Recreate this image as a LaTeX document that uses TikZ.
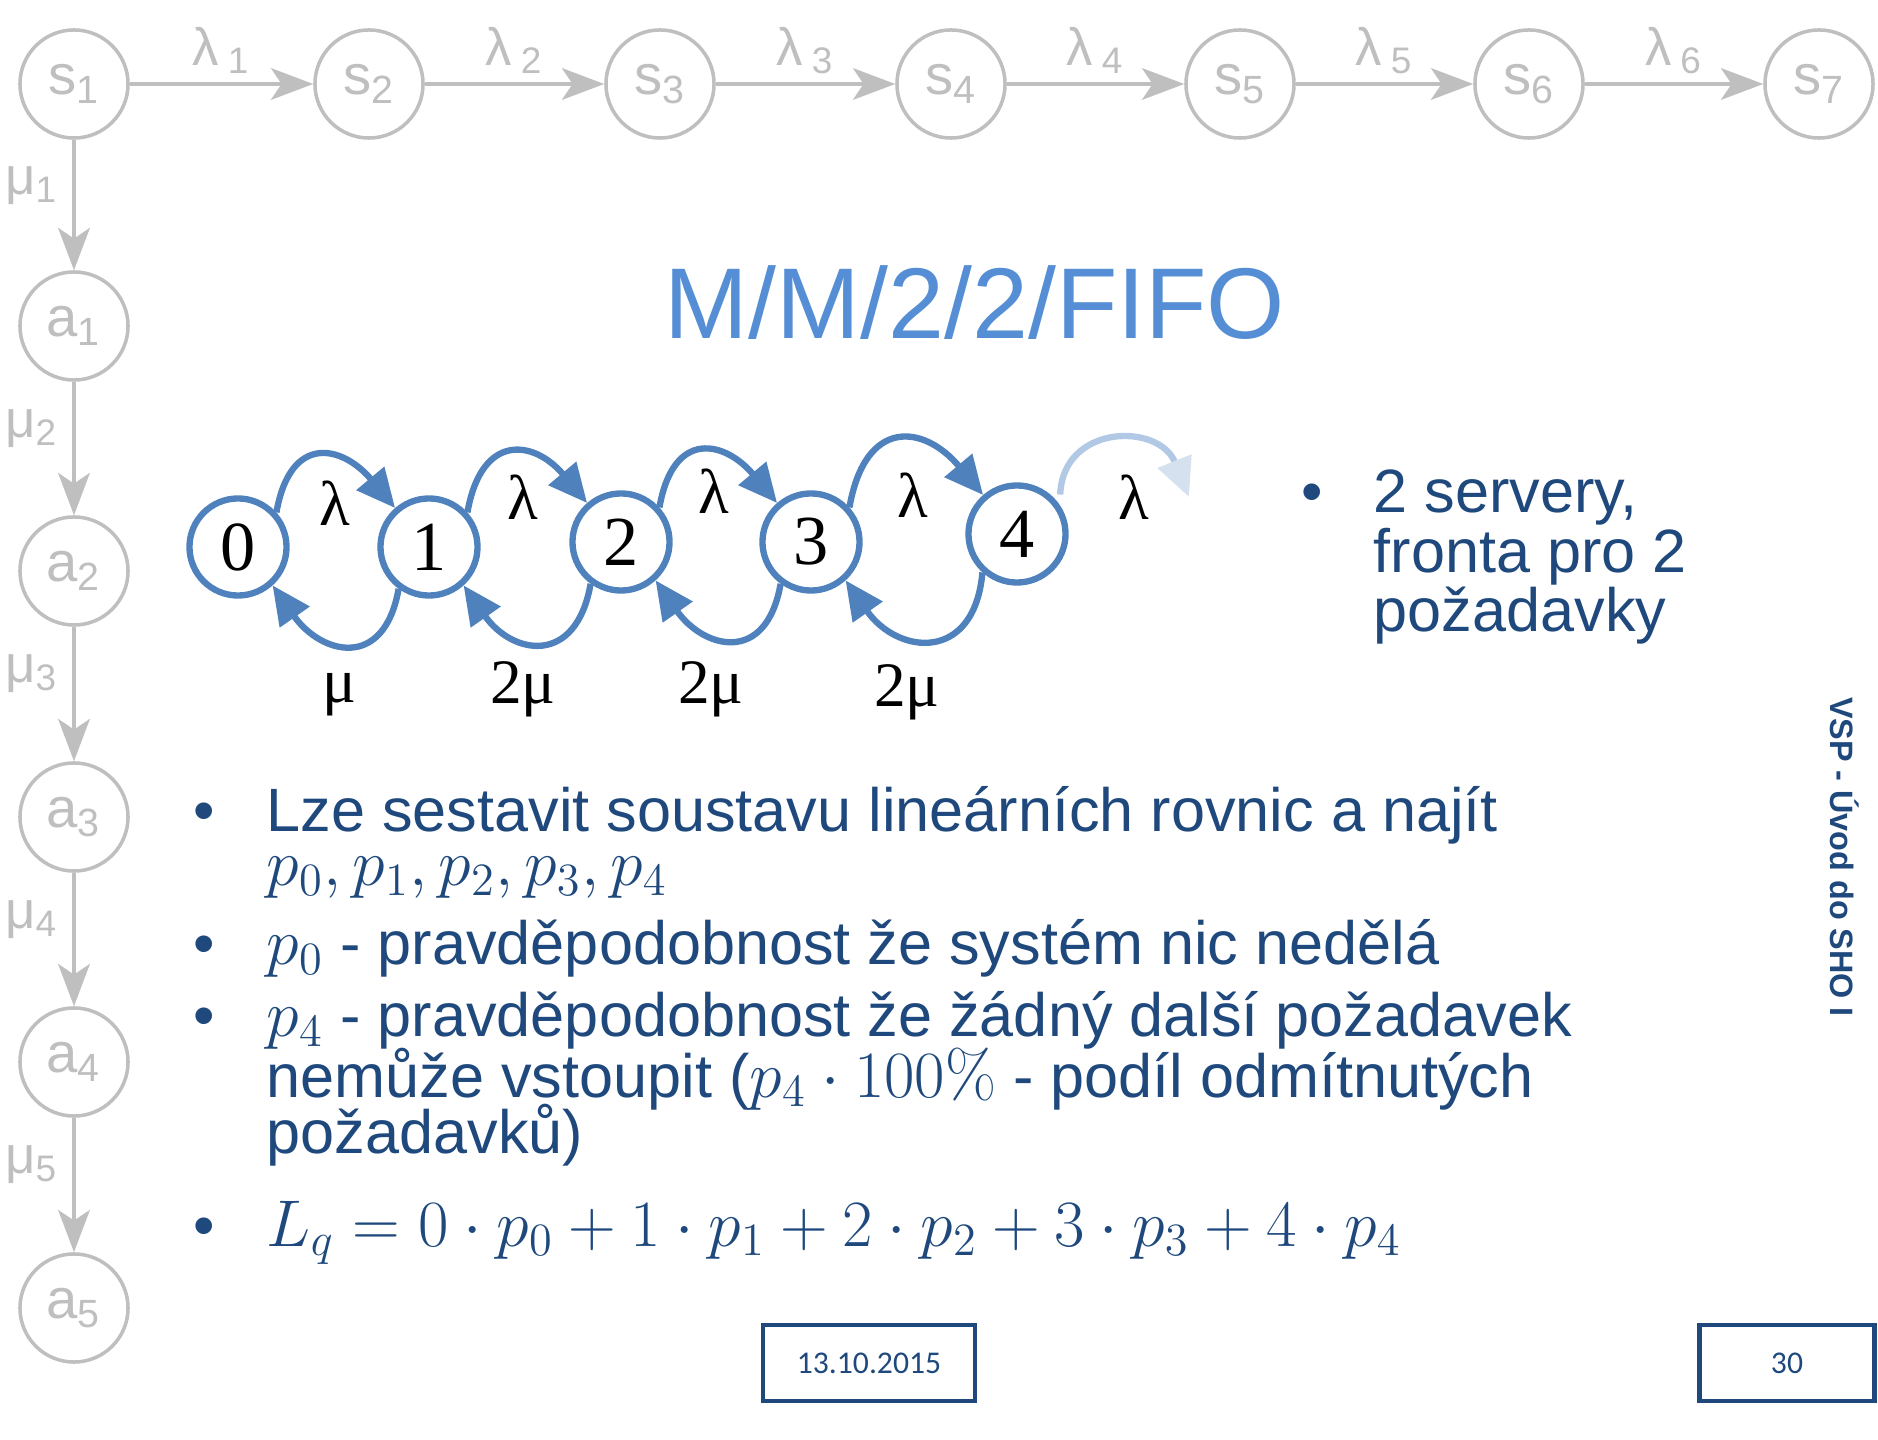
\RequirePackage{fix-cm}
\documentclass[tikz,border=0pt]{standalone}
\usepackage[no-math]{fontspec}
\setmainfont{Liberation Sans}
\newfontfamily\timesfont{Liberation Serif}
\newfontfamily\calibrifont{Carlito}
\usetikzlibrary{arrows.meta}
\definecolor{greyline}{RGB}{191,191,191}
\definecolor{stateblue}{RGB}{79,129,189}
\definecolor{titleblue}{RGB}{85,142,213}
\definecolor{textblue}{RGB}{31,73,125}
\definecolor{fadeblue}{RGB}{178,201,229}
\definecolor{fadetip}{RGB}{214,225,240}
\newcommand{\eqtext}[1]{{\fontsize{18.8}{18.8}\selectfont$#1$}}
\tikzset{
	grey/.style={circle, draw=greyline, line width=1pt, minimum size=1.08cm, inner sep=0pt, text=greyline, font=\fontsize{16}{16}\selectfont},
	greyarrow/.style={color=greyline, line width=1.1pt, -{Stealth[length=12pt,width=9pt,inset=3pt]}},
	greylabel/.style={text=greyline, font=\fontsize{15}{15}\selectfont},
	state/.style={circle, draw=stateblue, line width=1.8pt, minimum size=0.97cm, inner sep=0pt, font=\timesfont\fontsize{20}{20}\selectfont},
	trans/.style={color=stateblue, line width=1.8pt, -{Triangle[length=11pt,width=10pt]}},
	rate/.style={font=\timesfont\fontsize{18}{18}\selectfont},
	bodytext/.style={anchor=base west, text=textblue, inner sep=0pt, font=\fontsize{17.4}{17.4}\selectfont},
	bulletmark/.style={anchor=base, text=textblue, inner sep=0pt, font=\fontsize{17.4}{17.4}\selectfont},
	footbox/.style={draw=textblue, line width=1.2pt, minimum height=0.76cm, text=textblue, font=\calibrifont\fontsize{9}{9}\selectfont}
}
\begin{document}
\begin{tikzpicture}[x=0.01cm, y=0.01cm]
	\useasboundingbox (0,0) rectangle (1878,-1440);
	
	\node[grey] (s1) at (74,-84) {s\textsubscript{1}};
	\node[grey] (s2) at (369,-84) {s\textsubscript{2}};
	\node[grey] (s3) at (660,-84) {s\textsubscript{3}};
	\node[grey] (s4) at (951,-84) {s\textsubscript{4}};
	\node[grey] (s5) at (1240,-84) {s\textsubscript{5}};
	\node[grey] (s6) at (1529,-84) {s\textsubscript{6}};
	\node[grey] (s7) at (1819,-84) {s\textsubscript{7}};
	\node[grey] (a1) at (74,-326) {a\textsubscript{1}};
	\node[grey] (a2) at (74,-571) {a\textsubscript{2}};
	\node[grey] (a3) at (74,-817) {a\textsubscript{3}};
	\node[grey] (a4) at (74,-1062) {a\textsubscript{4}};
	\node[grey] (a5) at (74,-1308) {a\textsubscript{5}};
	
	\path[greyarrow] (s1) edge node[greylabel, above=-1pt] {λ\,\textsubscript{1}} (s2);
	\path[greyarrow] (s2) edge node[greylabel, above=-1pt] {λ\,\textsubscript{2}} (s3);
	\path[greyarrow] (s3) edge node[greylabel, above=-1pt] {λ\,\textsubscript{3}} (s4);
	\path[greyarrow] (s4) edge node[greylabel, above=-1pt] {λ\,\textsubscript{4}} (s5);
	\path[greyarrow] (s5) edge node[greylabel, above=-1pt] {λ\,\textsubscript{5}} (s6);
	\path[greyarrow] (s6) edge node[greylabel, above=-1pt] {λ\,\textsubscript{6}} (s7);
	\path[greyarrow] (s1) edge node[greylabel, inner sep=1pt, left=3pt, pos=0.35] {μ\textsubscript{1}} (a1);
	\path[greyarrow] (a1) edge node[greylabel, inner sep=1pt, left=3pt, pos=0.35] {μ\textsubscript{2}} (a2);
	\path[greyarrow] (a2) edge node[greylabel, inner sep=1pt, left=3pt, pos=0.35] {μ\textsubscript{3}} (a3);
	\path[greyarrow] (a3) edge node[greylabel, inner sep=1pt, left=3pt, pos=0.35] {μ\textsubscript{4}} (a4);
	\path[greyarrow] (a4) edge node[greylabel, inner sep=1pt, left=3pt, pos=0.35] {μ\textsubscript{5}} (a5);
	
	\node[text=titleblue, anchor=base, font=\fontsize{28.6}{28.6}\selectfont] (title) at (975,-339) {M/M/2/2/FIFO};
	
	\node[state] (q0) at (238,-547) {0};
	\node[state] (q1) at (429,-547) {1};
	\node[state] (q2) at (621,-542) {2};
	\node[state] (q3) at (811,-542) {3};
	\node[state] (q4) at (1017,-534) {4};
	\coordinate (qend) at (1189,-497);
	
	\draw[trans] (q0.42) to[out=80, in=130, looseness=1.75] (q1.131);
	\draw[trans] (q1.42) to[out=80, in=130, looseness=1.75] (q2.131);
	\draw[trans] (q2.42) to[out=80, in=130, looseness=1.75] (q3.131);
	\draw[trans] (q3.42) to[out=80, in=130, looseness=1.75] (q4.131);
	\draw[line width=1.8pt, draw=fadeblue, -{Triangle[length=11pt,width=10pt,color=fadetip,fill=fadetip]}, shorten <=3pt] (q4.34) to[out=88, in=112, looseness=1.6] (qend);
	\draw[trans] (q1.-126) to[out=-100, in=-55, looseness=1.7] (q0.-48);
	\draw[trans] (q2.-126) to[out=-100, in=-55, looseness=1.7] (q1.-48);
	\draw[trans] (q3.-126) to[out=-100, in=-55, looseness=1.7] (q2.-48);
	\draw[trans] (q4.-132) to[out=-95, in=-55, looseness=1.7] (q3.-48);
	
	\node[rate] (l01) at (335,-503) {λ};
	\node[rate] (l12) at (523,-497) {λ};
	\node[rate] (l23) at (714,-491) {λ};
	\node[rate] (l34) at (913,-495) {λ};
	\node[rate] (l45) at (1134,-497) {λ};
	\node[rate] (m10) at (339,-695) {μ};
	\node[rate] (m21) at (523,-689) {2μ};
	\node[rate] (m32) at (711,-689) {2μ};
	\node[rate] (m43) at (907,-692) {2μ};
	
	\node[bulletmark] (sb) at (1312,-513) {•};
	\node[bodytext] (sl1) at (1373,-513) {2 servery,};
	\node[bodytext] (sl2) at (1373,-573) {fronta pro 2};
	\node[bodytext] (sl3) at (1373,-632) {požadavky};
	
	\node[bulletmark] (b1) at (204,-832) {•};
	\node[bodytext] (t1) at (266,-832) {Lze sestavit soustavu lineárních rovnic a najít};
	\node[bodytext] (t2) at (266,-886) {\eqtext{p_0, p_1, p_2, p_3, p_4}};
	\node[bulletmark] (b2) at (204,-965) {•};
	\node[bodytext] (t3) at (266,-965) {\eqtext{p_0} - pravděpodobnost že systém nic nedělá};
	\node[bulletmark] (b3) at (204,-1037) {•};
	\node[bodytext] (t4) at (266,-1037) {\eqtext{p_4} - pravděpodobnost že žádný další požadavek};
	\node[bodytext] (t5) at (266,-1097) {nemůže vstoupit (\eqtext{p_4\cdot 100\%} - podíl odmítnutých};
	\node[bodytext] (t6) at (266,-1153) {požadavků)};
	\node[bulletmark] (b4) at (204,-1246) {•};
	\node[bodytext] (t7) at (266,-1246) {\eqtext{L_q = 0\cdot p_0 + 1\cdot p_1 + 2\cdot p_2 + 3\cdot p_3 + 4\cdot p_4}};
	
	\node[rotate=-90, text=textblue, font=\bfseries\fontsize{9.2}{9.2}\selectfont] (side) at (1845,-857) {VSP - Úvod do SHO I};
	\node[footbox, minimum width=2.12cm] (date) at (869,-1363) {13.10.2015};
	\node[footbox, minimum width=1.75cm] (page) at (1787,-1363) {30};
\end{tikzpicture}
\end{document}
